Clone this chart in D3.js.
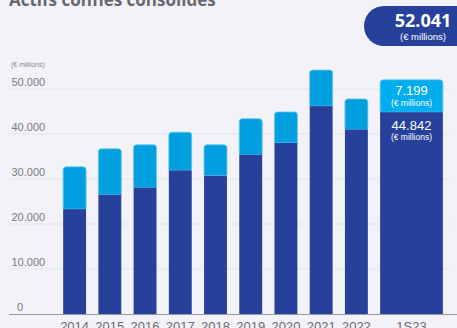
<!DOCTYPE html>
<html>
<head>
<meta charset="utf-8">
<script src="https://cdn.jsdelivr.net/npm/d3@7"></script>
<style>
  html, body { margin: 0; padding: 0; background: #f2f2f8; }
  svg { display: block; }
</style>
</head>
<body>
<div id="chart"></div>
<script>
const categories = ['2014', '2015', '2016', '2017', '2018', '2019', '2020', '2021', '2022', '1S23'];
const baseValues = [23300, 26500, 28100, 31900, 30700, 35400, 38000, 46200, 41000, 44842];
const topValues = [9400, 10200, 9500, 8500, 6900, 8000, 6900, 8000, 6800, 7199];
const yTicks = [0, 10000, 20000, 30000, 40000, 50000];
const tickLabels = ['0', '10.000', '20.000', '30.000', '40.000', '50.000'];
const totalLabel = '52.041';
const unitLabel = '(€ millions)';

const W = 457, H = 328;
const dark = '#27409a', light = '#009fdf', lightLast = '#00aeef';
const narrow = '"Liberation Sans Narrow", "Liberation Sans", sans-serif';

const svg = d3.select('#chart').append('svg')
  .attr('width', W).attr('height', H);

svg.append('rect').attr('width', W).attr('height', H).attr('fill', '#f2f2f8');

const y = d3.scaleLinear().domain([0, 50000]).range([314, 89]);

// years share one band scale, the half-year bar gets a wider band of its own
const years = categories.slice(0, 9);
const last = categories[9];
const x = d3.scaleBand().domain(years).range([57, 374]).paddingInner(0.35).paddingOuter(0.175);
const xLast = d3.scaleBand().domain([last]).range([377, 446]).paddingOuter(0.05);
const xs = d => years.includes(d) ? x : xLast;

const data = categories.map((c, i) => ({ cat: c, base: baseValues[i], top: topValues[i], total: baseValues[i] + topValues[i] }));

// title (cut at top)
svg.append('text')
  .attr('x', 9).attr('y', 6)
  .attr('font-family', '"Open Sans", sans-serif')
  .attr('font-weight', 700).attr('font-size', 17)
  .attr('fill', '#68686e')
  .text('Actifs confiés consolidés');

// unit label
svg.append('text')
  .attr('x', 11).attr('y', 67)
  .attr('font-family', narrow).attr('font-size', 7)
  .attr('fill', '#8a8a90')
  .text(unitLabel);

// gridlines
svg.append('g').selectAll('line')
  .data(yTicks.slice(1))
  .enter().append('line')
  .attr('x1', 9).attr('x2', 450)
  .attr('y1', d => y(d)).attr('y2', d => y(d))
  .attr('stroke', '#e4e4ec').attr('stroke-width', 1.2);

svg.append('g').selectAll('text')
  .data(yTicks)
  .enter().append('text')
  .attr('x', d => d === 0 ? 17 : 11.5)
  .attr('y', d => y(d) - 3)
  .attr('font-family', narrow).attr('font-size', 11)
  .attr('fill', '#7a7a80')
  .text((d, i) => tickLabels[i]);

// bars
const roundTop = (x0, y0, w, h, r) =>
  `M${x0},${y0 + h}V${y0 + r}Q${x0},${y0} ${x0 + r},${y0}H${x0 + w - r}Q${x0 + w},${y0} ${x0 + w},${y0 + r}V${y0 + h}Z`;

const bars = svg.append('g').selectAll('g')
  .data(data)
  .enter().append('g');

bars.append('path')
  .attr('d', d => {
    const s = xs(d.cat);
    return roundTop(s(d.cat), y(d.total), s.bandwidth(), y(d.base) - y(d.total), 3);
  })
  .attr('fill', d => d.cat === last ? lightLast : light)
  .attr('stroke', '#63c6ef').attr('stroke-width', 0.8);

bars.append('rect')
  .attr('x', d => xs(d.cat)(d.cat))
  .attr('y', d => y(d.base))
  .attr('width', d => xs(d.cat).bandwidth())
  .attr('height', d => y(0) - y(d.base))
  .attr('fill', dark);

// axis baseline
svg.append('line')
  .attr('x1', 9).attr('x2', W)
  .attr('y1', y(0) + 0.5).attr('y2', y(0) + 0.5)
  .attr('stroke', '#9a9aa0').attr('stroke-width', 1.2);

// category labels
svg.append('g').selectAll('text')
  .data(categories)
  .enter().append('text')
  .attr('x', d => xs(d)(d) + xs(d).bandwidth() / 2)
  .attr('y', 331)
  .attr('text-anchor', 'middle')
  .attr('font-family', narrow).attr('font-size', 13)
  .attr('fill', '#6b6b70')
  .text(d => d);

// labels inside the last bar
const lastD = data[9];
const cx = xLast(last) + xLast.bandwidth() / 2;
const inBar = [
  { t: d3.format('.3f')(lastD.top / 1000), yy: y(lastD.total) + 15, s: 13 },
  { t: unitLabel, yy: y(lastD.total) + 26.5, s: 8.5 },
  { t: d3.format('.3f')(lastD.base / 1000), yy: y(lastD.base) + 17.5, s: 13 },
  { t: unitLabel, yy: y(lastD.base) + 28, s: 8.5 }
];
svg.append('g').selectAll('text')
  .data(inBar)
  .enter().append('text')
  .attr('x', cx).attr('y', d => d.yy)
  .attr('text-anchor', 'middle')
  .attr('font-family', narrow).attr('font-size', d => d.s)
  .attr('fill', '#ffffff')
  .text(d => d.t);

// total pill
svg.append('rect')
  .attr('x', 364).attr('y', 6)
  .attr('width', 118).attr('height', 40)
  .attr('rx', 20)
  .attr('fill', dark);
svg.append('text')
  .attr('x', 423).attr('y', 26.5)
  .attr('text-anchor', 'middle')
  .attr('font-family', '"Open Sans", sans-serif')
  .attr('font-weight', 700).attr('font-size', 18)
  .attr('fill', '#ffffff')
  .text(totalLabel);
svg.append('text')
  .attr('x', 423).attr('y', 40)
  .attr('text-anchor', 'middle')
  .attr('font-family', narrow).attr('font-size', 9.5)
  .attr('fill', '#ffffff')
  .text(unitLabel);
</script>
</body>
</html>
